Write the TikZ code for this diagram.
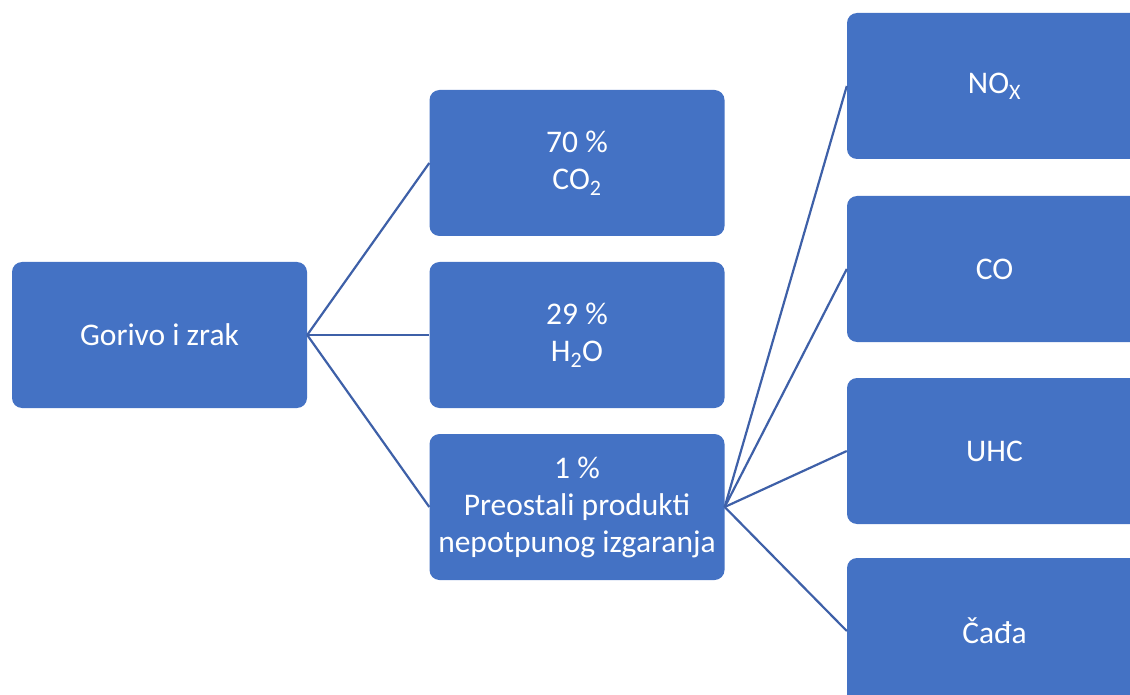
\documentclass[tikz,border=0pt]{standalone}
\usepackage{fontspec}
\setmainfont{Carlito}
\definecolor{boxblue}{RGB}{68,114,196}
\definecolor{lineblue}{RGB}{62,96,168}
\begin{document}
\begin{tikzpicture}[x=1pt,y=-1pt,
  box/.style={fill=boxblue, rounded corners=10pt, minimum width=295pt, minimum height=146pt,
    inner sep=0pt, text=white, align=center, font=\fontsize{31.5}{37}\selectfont},
  link/.style={draw=lineblue, line width=2.2pt}]
\useasboundingbox (0,0) rectangle (1130,695);
\clip (0,0) rectangle (1130,695);
\node[box] (g) at (159.5,335) {Gorivo i zrak};
\node[box] (a) at (577,163) {70 \%\\CO\textsubscript{2}};
\node[box] (b) at (577,335) {29 \%\\H\textsubscript{2}O};
\node[box] (c) at (577,507) {1 \%\\Preostali produkti\\nepotpunog izgaranja};
\node[box] (n1) at (994.5,86) {NO\textsubscript{X}};
\node[box] (n2) at (994.5,269) {CO};
\node[box] (n3) at (994.5,451) {UHC};
\node[box] (n4) at (994.5,631) {Čađa};
\draw[link] (g.east) -- (a.west);
\draw[link] (g.east) -- (b.west);
\draw[link] (g.east) -- (c.west);
\draw[link] (c.east) -- (n1.west);
\draw[link] (c.east) -- (n2.west);
\draw[link] (c.east) -- (n3.west);
\draw[link] (c.east) -- (n4.west);
\end{tikzpicture}
\end{document}
